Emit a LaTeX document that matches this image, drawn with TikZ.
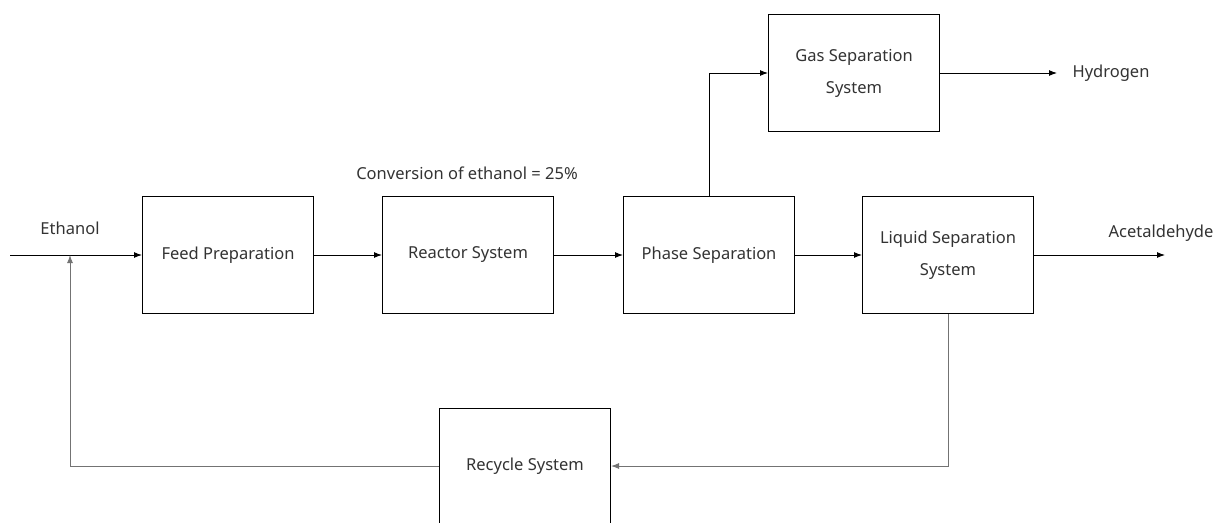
\documentclass[tikz,border=0pt]{standalone}
\usepackage{fontspec}
\setmainfont{Noto Sans}
\usetikzlibrary{arrows.meta}

\tikzset{
  unit/.style={draw, line width=1pt, minimum width=171pt, minimum height=117pt,
    align=center, inner sep=0pt},
  flow/.style={draw, line width=1pt, -{Latex[length=8pt,width=6pt]}},
  back/.style={flow, draw=black!55},
  lbl/.style={inner sep=0pt}
}

\begin{document}
\begin{tikzpicture}[x=1pt,y=-1pt, font=\fontsize{16.5}{32}\selectfont, text=black!80]

  \clip (0,0) rectangle (1220,522);
  \fill[white] (0,0) rectangle (1220,522);

  % process units
  \node[unit] (feed)    at (228,255) {Feed Preparation};
  \node[unit] (reactor) at (468,255) {Reactor System};
  \node[unit] (phase)   at (709,255) {Phase Separation};
  \node[unit] (liquid)  at (948,255) {Liquid Separation\\System};
  \node[unit] (gas)     at (854,73)  {Gas Separation\\System};
  \node[unit, minimum height=116pt] (recycle) at (525,466) {Recycle System};

  % labels
  \node[lbl] (ethanol) at (70,228)   {Ethanol};
  \node[lbl] (conv)    at (467,173)  {Conversion of ethanol = 25\%};
  \node[lbl] (h2lbl)   at (1111,73)  {Hydrogen};
  \node[lbl] (aclbl)   at (1161,233) {Acetaldehyde};

  % free ends
  \coordinate (feedin) at (10,255);
  \coordinate (mix)    at (70,255);
  \coordinate (h2out)  at (1057,73);
  \coordinate (acout)  at (1165,255);

  % streams
  \draw[flow] (feedin) -- (feed);
  \draw[flow] (feed) -- (reactor);
  \draw[flow] (reactor) -- (phase);
  \draw[flow] (phase) -- (liquid);
  \draw[flow] (phase.north) |- (gas.west);
  \draw[flow] (gas.east) -- (h2out);
  \draw[flow] (liquid.east) -- (acout);
  \draw[back] (liquid.south) |- (recycle.east);
  \draw[back] (recycle.west) -| (mix);

\end{tikzpicture}
\end{document}
